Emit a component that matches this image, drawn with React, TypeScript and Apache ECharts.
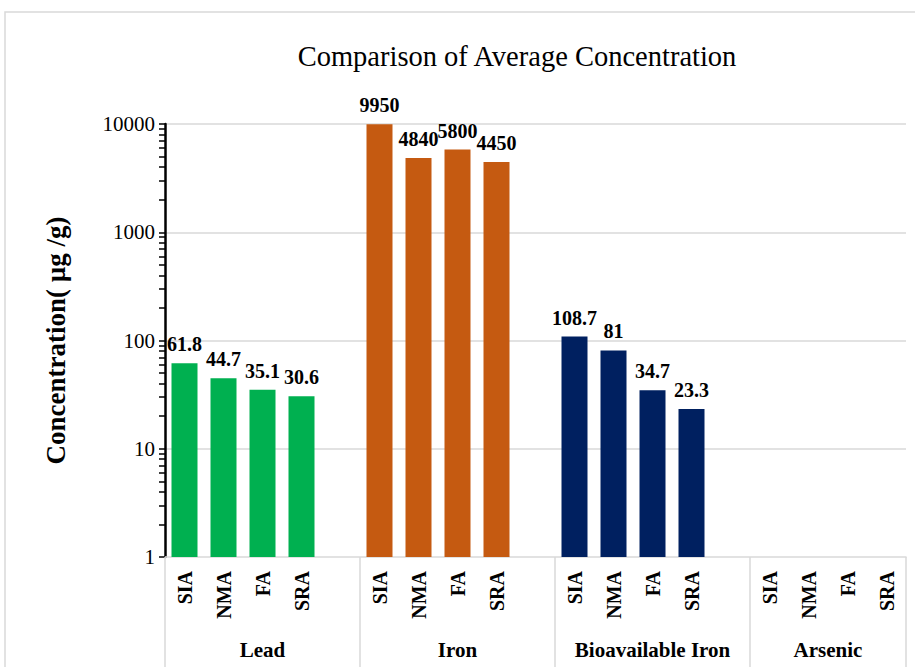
import React, { useEffect, useRef } from "react";
import * as echarts from "echarts";

const subCategories = ["SIA", "NMA", "FA", "SRA"];
const groups = ["Lead", "Iron", "Bioavailable Iron", "Arsenic"];
const leadValues = [61.8, 44.7, 35.1, 30.6];
const ironValues = [9950, 4840, 5800, 4450];
const bioIronValues = [108.7, 81, 34.7, 23.3];
const arsenicValues: (number | null)[] = [null, null, null, null];
const groupColors = ["#00B050", "#C55A11", "#002060", "#7F7F7F"];
const yTicks = [1, 10, 100, 1000, 10000];
const yGridLines = [10, 100, 1000, 10000];
const yMinorTicks = [2, 3, 4, 5, 6, 7, 8, 9, 20, 30, 40, 50, 60, 70, 80, 90, 200, 300, 400, 500, 600, 700, 800, 900, 2000, 3000, 4000, 5000, 6000, 7000, 8000, 9000];

const SERIF = "'Times New Roman', 'Liberation Serif', serif";

export default function App() {
  const ref = useRef<HTMLDivElement>(null);
  useEffect(() => {
    if (!ref.current) return;
    const chart = echarts.init(ref.current, undefined, { renderer: "svg" });
    const allValues = [leadValues, ironValues, bioIronValues, arsenicValues];
    const categories: string[] = [];
    const data: any[] = [];
    const groupBounds: number[] = [0];
    const groupCenters: number[] = [];
    allValues.forEach((vals, gi) => {
      const start = categories.length;
      subCategories.forEach((s, i) => {
        categories.push(s);
        const v = vals[i];
        data.push(v == null ? null : { value: v, itemStyle: { color: groupColors[gi] } });
      });
      groupCenters.push(start + 2);
      if (gi < allValues.length - 1) {
        categories.push("");
        data.push(null);
        groupCenters[gi] = start + 2.5;
      }
      groupBounds.push(categories.length);
    });
    const total = categories.length;
    const allYTicks = [...yTicks, ...yMinorTicks].sort((a, b) => a - b);

    chart.setOption({
      animation: false,
      backgroundColor: "#fff",
      title: {
        text: "Comparison of Average Concentration",
        left: 512,
        top: 37,
        textAlign: "center",
        textStyle: { fontFamily: SERIF, fontSize: 28.5, fontWeight: "normal", color: "#000" },
      },
      graphic: [
        {
          type: "rect",
          shape: { x: 5, y: 12, width: 960, height: 720 },
          style: { fill: "none", stroke: "#d9d9d9", lineWidth: 1.5 },
          silent: true,
          z: -10,
        },
      ],
      grid: { left: 165, right: 9, top: 124, bottom: 110, containLabel: false },
      xAxis: [
        {
          type: "category",
          data: categories,
          position: "bottom",
          axisLine: { onZero: false, lineStyle: { color: "#d9d9d9", width: 1.5 } },
          axisTick: { show: false },
          axisLabel: {
            interval: 0,
            rotate: 90,
            margin: 14,
            fontFamily: SERIF,
            fontWeight: "bold",
            fontSize: 20,
            color: "#000",
          },
        },
        {
          type: "value",
          min: 0,
          max: total,
          position: "bottom",
          axisLine: { show: false, onZero: false },
          splitLine: { show: false },
          axisTick: {
            show: true,
            customValues: groupBounds,
            length: 115,
            lineStyle: { color: "#d9d9d9", width: 1.5 },
          },
          axisLabel: {
            customValues: groupCenters,
            margin: 82,
            fontFamily: SERIF,
            fontWeight: "bold",
            fontSize: 21,
            color: "#000",
            formatter: (v: number) => {
              const idx = groupCenters.findIndex((c) => Math.abs(c - v) < 1e-6);
              return idx >= 0 ? groups[idx] : "";
            },
          },
        },
      ],
      yAxis: [
        {
          type: "log",
          logBase: 10,
          min: 1,
          max: 10000,
          position: "left",
          name: "Concentration( µg /g)",
          nameLocation: "middle",
          nameGap: 96,
          nameTextStyle: { fontFamily: SERIF, fontWeight: "bold", fontSize: 27, color: "#000" },
          axisLine: { show: true, onZero: false, lineStyle: { color: "#000", width: 2.5 } },
          axisTick: { show: true, customValues: allYTicks, length: 6, lineStyle: { color: "#000", width: 1.5 } },
          axisLabel: {
            customValues: yTicks,
            margin: 10,
            fontFamily: SERIF,
            fontSize: 21,
            color: "#000",
            formatter: (v: number) => String(Math.round(v)),
          },
          splitLine: { show: false },
        },
      ],
      series: [
        {
          type: "bar",
          xAxisIndex: 0,
          yAxisIndex: 0,
          data,
          barWidth: 26,
          z: 2,
          label: {
            show: true,
            position: "top",
            distance: 9,
            fontFamily: SERIF,
            fontWeight: "bold",
            fontSize: 20,
            color: "#000",
          },
          markLine: {
            silent: true,
            z: 0,
            symbol: ["none", "none"],
            label: { show: false },
            lineStyle: { color: "#d9d9d9", width: 1.5, type: "solid" },
            data: yGridLines.map((v) => ({ yAxis: v })),
          },
        },
      ],
    });
    return () => chart.dispose();
  }, []);
  return (
    <div
      ref={ref}
      style={{ position: "fixed", left: 0, top: 0, width: 915, height: 667 }}
    />
  );
}
